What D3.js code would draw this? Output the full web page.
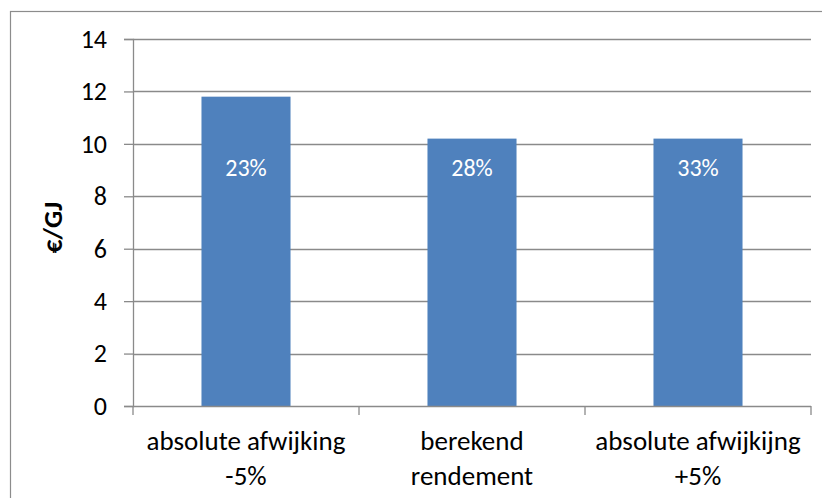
<!DOCTYPE html>
<html>
<head>
<meta charset="utf-8">
<script src="https://cdn.jsdelivr.net/npm/d3@7"></script>
<style>
  html, body { margin: 0; padding: 0; background: #fff; }
  svg { display: block; }
  text { font-family: Carlito, Lato, "Open Sans", sans-serif; }
</style>
</head>
<body>
<svg id="chart" width="822" height="498"></svg>
<script>
// Cost per GJ under three efficiency assumptions
const categories = [["absolute afwijking", "-5%"], ["berekend", "rendement"], ["absolute afwijkijng", "+5%"]];
const values = [11.8, 10.2, 10.2];
const barLabels = ["23%", "28%", "33%"];
const yTicks = [0, 2, 4, 6, 8, 10, 12, 14];
const yTitle = "€/GJ";

const svg = d3.select("#chart");
const W = 822, H = 498;
const margin = { left: 133, right: 11, top: 39, bottom: 92 };
const plotW = W - margin.left - margin.right;
const plotH = H - margin.top - margin.bottom;

// Outer chart frame
svg.append("rect")
  .attr("x", 10.5).attr("y", 11.5)
  .attr("width", W + 10).attr("height", H + 10)
  .attr("fill", "none").attr("stroke", "#8c8c8c").attr("stroke-width", 1.2);

const g = svg.append("g").attr("transform", `translate(${margin.left},${margin.top})`);

const x = d3.scaleBand().domain(d3.range(categories.length)).range([0, plotW]).paddingInner(0.606).paddingOuter(0.303);
const xCat = d3.scaleBand().domain(d3.range(categories.length)).range([0, plotW]);
const y = d3.scaleLinear().domain([0, 14]).range([plotH, 0]);

// Horizontal gridlines
g.append("g").selectAll("line").data(yTicks.filter(d => d > 0)).join("line")
  .attr("x1", 0).attr("x2", plotW)
  .attr("y1", d => Math.round(y(d)) + 0.5).attr("y2", d => Math.round(y(d)) + 0.5)
  .attr("stroke", "#8a8a8a").attr("stroke-width", 1.3);

// Y axis
const yAxis = g.append("g")
  .call(d3.axisLeft(y).tickValues(yTicks).tickSize(9).tickPadding(17).tickFormat(d3.format("d")));
yAxis.select(".domain").attr("stroke", "#8a8a8a").attr("stroke-width", 1.3);
yAxis.selectAll(".tick line").attr("stroke", "#8a8a8a").attr("stroke-width", 1.3);
yAxis.selectAll(".tick text").attr("font-size", 26).attr("fill", "#000")
  .attr("font-family", "Carlito, Lato, 'Open Sans', sans-serif");

// Bars
g.append("g").selectAll("rect").data(values).join("rect")
  .attr("x", (d, i) => x(i)).attr("width", x.bandwidth())
  .attr("y", d => y(d)).attr("height", d => plotH - y(d))
  .attr("fill", "#4f81bd");

// Value labels inside the bars
g.append("g").selectAll("text").data(barLabels).join("text")
  .attr("x", (d, i) => x(i) + x.bandwidth() / 2)
  .attr("y", y(9.0))
  .attr("text-anchor", "middle").attr("dominant-baseline", "middle")
  .attr("font-size", 24).attr("fill", "#fff")
  .text(d => d);

// X axis with category separators
const xAxis = g.append("g").attr("transform", `translate(0,${plotH})`);
xAxis.append("line").attr("x1", 0).attr("x2", plotW).attr("y1", 0.5).attr("y2", 0.5)
  .attr("stroke", "#8a8a8a").attr("stroke-width", 1.3);
xAxis.selectAll("line.sep").data(d3.range(categories.length + 1)).join("line")
  .attr("class", "sep")
  .attr("x1", i => i < categories.length ? xCat(i) : plotW)
  .attr("x2", i => i < categories.length ? xCat(i) : plotW)
  .attr("y1", 0).attr("y2", 9)
  .attr("stroke", "#8a8a8a").attr("stroke-width", 1.3);

const catText = xAxis.selectAll("text.cat").data(categories).join("text")
  .attr("class", "cat")
  .attr("x", (d, i) => xCat(i) + xCat.bandwidth() / 2)
  .attr("y", 38)
  .attr("text-anchor", "middle").attr("dominant-baseline", "middle")
  .attr("font-size", 27).attr("fill", "#000");
catText.selectAll("tspan").data(d => d).join("tspan")
  .attr("x", function () { return d3.select(this.parentNode).attr("x"); })
  .attr("dy", (d, i) => i === 0 ? 0 : 35)
  .text(d => d);

// Y axis title
svg.append("text")
  .attr("transform", `translate(55,${margin.top + plotH / 2 + 5}) rotate(-90)`)
  .attr("text-anchor", "middle").attr("dominant-baseline", "middle")
  .attr("font-size", 27).attr("font-weight", "bold").attr("fill", "#000")
  .text(yTitle);
</script>
</body>
</html>
